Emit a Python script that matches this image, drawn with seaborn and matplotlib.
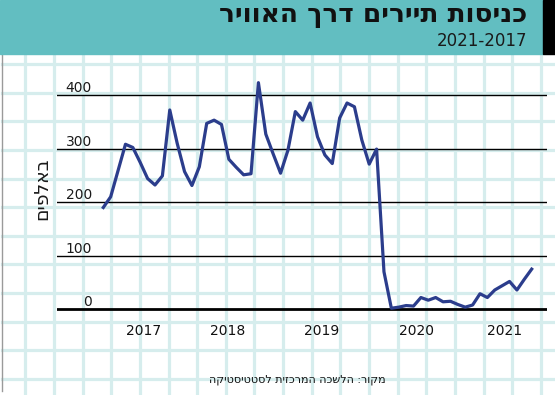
import numpy as np
import pandas as pd
import matplotlib
matplotlib.use("Agg")
import matplotlib.pyplot as plt
import seaborn as sns
from matplotlib.patches import Rectangle

# %%
# monthly tourist entries by air, thousands (Jan 2017 .. Nov 2021)
months = pd.date_range("2017-01-01", periods=59, freq="MS")
entries = [190, 210, 259, 308, 302, 274, 244, 232, 249, 372, 310, 257,
           231, 266, 347, 353, 345, 280, 265, 251, 253, 423, 327, 290,
           254, 297, 369, 353, 385, 322, 288, 272, 357, 385, 378, 316,
           271, 299, 70, 2, 4, 7, 6, 22, 17, 22, 14, 15,
           9, 4, 8, 29, 22, 36, 44, 52, 36, 56, 75]
years = ["2017", "2018", "2019", "2020", "2021"]
y_ticks = [0, 100, 200, 300, 400]

title = "כניסות תיירים דרך האוויר"
subtitle = "2021-2017"
y_label = "באלפים"
source = "מקור: הלשכה המרכזית לסטטיסטיקה"


def rtl(s):
    # matplotlib has no bidi support, so flip hebrew to visual order
    return s[::-1]


# %%
W, H = 555, 395
teal = "#62bec1"
grid_c = "#d6eded"
navy = "#2b3d8c"

plt.rcParams["font.family"] = ["DejaVu Sans"]
fig = plt.figure(figsize=(W / 100, H / 100), dpi=100)
fig.patch.set_facecolor("white")

# background "graph paper" + header, in pixel coordinates
bg = fig.add_axes([0, 0, 1, 1])
bg.set_xlim(0, W)
bg.set_ylim(H, 0)
bg.axis("off")
for gx in 25.3 + 28.64 * np.arange(19):
    bg.plot([gx, gx], [0, H], color=grid_c, lw=2.3, zorder=0)
for gy in 64 + 28.64 * np.arange(12):
    bg.plot([2, W], [gy, gy], color=grid_c, lw=2.3, zorder=0)
bg.add_patch(Rectangle((0, 0), 543.4, 54, color=teal, zorder=3))
bg.add_patch(Rectangle((543.4, 0), W - 543.4, 54, color="black", zorder=3))
bg.plot([1.5, 1.5], [54, 391], color="#9a9a9a", lw=1, zorder=1)

bg.text(527, 14.5, rtl(title), ha="right", va="center", fontsize=19,
        fontweight="bold", color="#111111", zorder=4)
bg.text(527, 40.5, subtitle, ha="right", va="center", fontsize=12,
        color="#1a1a1a", zorder=4)
bg.text(42, 189, rtl(y_label), rotation=90, ha="center", va="center",
        fontsize=13.5, color="#1a1a1a")
bg.text(297, 379.5, rtl(source), ha="center", va="center", fontsize=8,
        color="#111111")

# %%
# chart area: month index on x, thousands on y
x0_px, x1_px = 56.7, 546.7
first_px, step = 103.3, 7.386
zero_px, per = 309.3, 0.5358
y_lo, y_hi = -10, 440
bot_px = zero_px - y_lo * per
top_px = zero_px - y_hi * per

ax = fig.add_axes([x0_px / W, (H - bot_px) / H, (x1_px - x0_px) / W,
                   (bot_px - top_px) / H])
ax.patch.set_alpha(0)

df = pd.DataFrame({"month": np.arange(len(months)), "entries": entries})
sns.lineplot(data=df, x="month", y="entries", ax=ax, color=navy, lw=2.3,
             zorder=3)

for v in y_ticks:
    ax.axhline(v, color="black", lw=2 if v == 0 else 1, zorder=2)
    ax.text((92 - first_px) / step, v + 13, str(v), ha="right", va="center",
            fontsize=10, color="#1a1a1a")

year_pos = [5.4, 16.8, 29.6, 42.4, 54.3]
for p, yr in zip(year_pos, years):
    ax.text(p, -40.5, yr, ha="center", va="center", fontsize=10,
            color="#111111")

ax.set_xlim((x0_px - first_px) / step, (x1_px - first_px) / step)
ax.set_ylim(y_lo, y_hi)
ax.set_xticks([])
ax.set_yticks([])
ax.set_xlabel("")
ax.set_ylabel("")
for s in ax.spines.values():
    s.set_visible(False)

fig.savefig("out.png", dpi=100)
